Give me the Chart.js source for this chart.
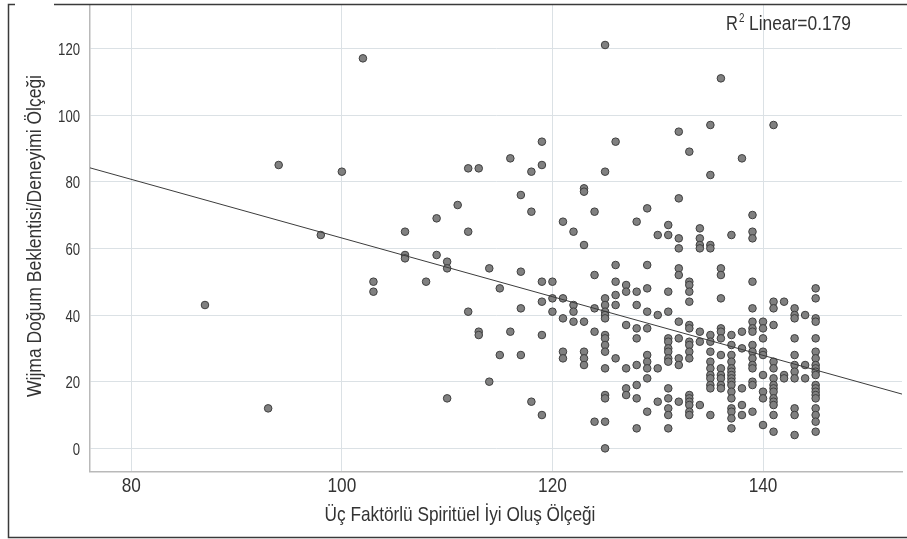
<!DOCTYPE html>
<html>
<head>
<meta charset="utf-8">
<script src="https://cdn.jsdelivr.net/npm/chart.js@4.4.1/dist/chart.umd.min.js"></script>
<style>
html,body{margin:0;padding:0;background:#fff;}
#wrap{width:907px;height:539px;position:relative;}
</style>
</head>
<body>
<div id="wrap"><canvas id="c" width="907" height="539"></canvas></div>
<script>
// x scores (Üç Faktörlü Spiritüel İyi Oluş Ölçeği), one entry per column of points
const colX = [87, 93, 94, 98, 100, 102, 103, 106, 108, 109, 110, 111, 112, 113, 114, 115, 116, 117, 118, 119,
  120, 121, 122, 123, 124, 125, 126, 127, 128, 129, 130, 131, 132, 133, 134, 135, 136, 137, 138, 139,
  140, 141, 142, 143, 144, 145];
// y scores (Wijma Doğum Beklentisi/Deneyimi Ölçeği) for each column above
const colY = [
  [43], [12], [85], [64], [83], [117], [50, 47], [65, 58, 57], [50], [69, 58], [56, 54, 15], [73],
  [84, 65, 41], [84, 35, 34], [54, 20], [48, 28], [87, 35], [76, 53, 42, 28], [83, 71, 14],
  [92, 85, 50, 44, 34, 10],
  [50, 45, 41],
  [68, 45, 39, 29, 27],
  [65, 43, 41, 38],
  [78, 77, 61, 38, 29, 27, 25],
  [71, 52, 42, 35, 8],
  [121, 83, 45, 43, 41, 40, 39, 34, 33, 31, 29, 24, 16, 15, 8, 0],
  [92, 55, 50, 46, 43, 27],
  [49, 47, 37, 24, 18, 16],
  [68, 47, 43, 36, 33, 25, 19, 15, 6],
  [72, 55, 48, 41, 36, 28, 26, 24, 21, 11],
  [64, 40, 24, 14],
  [67, 64, 47, 41, 33, 32, 30, 29, 27, 26, 18, 15, 12, 10, 6],
  [95, 75, 63, 60, 54, 52, 38, 33, 27, 25, 14],
  [89, 50, 49, 47, 44, 37, 36, 32, 31, 29, 27, 16, 15, 14, 13, 11, 10],
  [66, 63, 61, 60, 35, 32, 13],
  [97, 82, 61, 60, 34, 32, 29, 26, 24, 22, 21, 19, 18, 10],
  [111, 54, 52, 45, 36, 35, 33, 28, 24, 22, 21, 19, 18],
  [64, 34, 31, 28, 26, 24, 23, 22, 21, 20, 19, 17, 15, 12, 11, 9, 6],
  [87, 35, 30, 18, 13, 10],
  [70, 65, 63, 50, 42, 38, 36, 35, 31, 29, 27, 25, 24, 20, 19, 11],
  [38, 36, 33, 29, 28, 22, 17, 15, 7],
  [97, 44, 42, 37, 26, 24, 21, 19, 18, 17, 15, 14, 13, 10, 5],
  [44, 22, 21],
  [42, 40, 39, 33, 28, 25, 23, 21, 12, 10, 4],
  [40, 25, 21],
  [48, 45, 39, 38, 33, 29, 27, 25, 24, 23, 22, 19, 18, 17, 16, 15, 12, 10, 8, 5]
];
const xTicks = [80, 100, 120, 140];
const yTicks = [0, 20, 40, 60, 80, 100, 120];
const xRange = [76.08, 153.2];
const yRange = [-7, 133];
// fit line
const regIntercept = 151.1;
const regSlope = -0.88;
const r2Text = "0.179";
const xTitle = "Üç Faktörlü Spiritüel İyi Oluş Ölçeği";
const yTitle = "Wijma Doğum Beklentisi/Deneyimi Ölçeği";

const FONT = "'Liberation Sans', Arial, sans-serif";
const NARROW = 0.82;

const points = [];
colX.forEach((x, i) => colY[i].forEach(y => points.push({x, y})));
const fitLine = xRange.map(x => ({x, y: regIntercept + regSlope * x}));

// draw text with horizontal compression; either fixed factor or fitted to a target width
function drawText(ctx, text, x, y, size, opts) {
  ctx.save();
  ctx.font = size + "px " + FONT;
  const w = ctx.measureText(text).width;
  let sx = NARROW;
  if (opts.width) sx = opts.width / w;
  ctx.translate(x, y);
  if (opts.rotate) ctx.rotate(opts.rotate);
  ctx.scale(sx, 1);
  ctx.textAlign = opts.align || 'center';
  ctx.textBaseline = opts.baseline || 'alphabetic';
  ctx.fillStyle = opts.color || '#333';
  ctx.fillText(text, 0, 0);
  ctx.restore();
}

const decor = {
  id: 'decor',
  afterDraw(chart) {
    const ctx = chart.ctx;
    const xs = chart.scales.x, ys = chart.scales.y;
    ctx.save();
    // outer frame
    ctx.strokeStyle = '#3a3a3a';
    ctx.lineWidth = 1.5;
    ctx.beginPath();
    ctx.moveTo(54, 4.5); ctx.lineTo(907, 4.5);
    ctx.moveTo(15, 4.5); ctx.lineTo(8.5, 4.5); ctx.lineTo(8.5, 537.5); ctx.lineTo(907, 537.5);
    ctx.stroke();
    ctx.restore();
    // tick labels
    xTicks.forEach(v => drawText(ctx, String(v), xs.getPixelForValue(v), 491.7, 21, {}));
    yTicks.forEach(v => drawText(ctx, String(v), 80, ys.getPixelForValue(v) + 6.7, 16, {align: 'right'}));
    // axis titles
    drawText(ctx, xTitle, 460, 521, 21, {});
    drawText(ctx, yTitle, 40.5, 236, 21, {width: 322, rotate: -Math.PI / 2});
    // R² label
    drawText(ctx, "R", 726, 30, 20, {align: 'left'});
    drawText(ctx, "2", 739, 21.5, 12, {align: 'left'});
    drawText(ctx, "Linear=" + r2Text, 749, 30, 20, {align: 'left', width: 102});
  }
};

new Chart(document.getElementById('c'), {
  type: 'scatter',
  data: {
    datasets: [
      {
        type: 'line',
        data: fitLine,
        borderColor: '#3c3c3c',
        borderWidth: 1,
        pointRadius: 0,
        fill: false
      },
      {
        data: points,
        pointRadius: 3.8,
        pointBackgroundColor: '#808080',
        pointBorderColor: '#3f3f3f',
        pointBorderWidth: 1
      }
    ]
  },
  options: {
    responsive: false,
    animation: false,
    events: [],
    layout: {padding: {top: 5, right: 0, left: 0, bottom: 0}},
    plugins: {legend: {display: false}, tooltip: {enabled: false}},
    scales: {
      x: {
        type: 'linear',
        min: xRange[0], max: xRange[1],
        afterBuildTicks: s => { s.ticks = xTicks.map(v => ({value: v})); },
        afterFit: s => { s.height = 67.3; },
        grid: {color: '#dbe1e5', lineWidth: 1, drawTicks: false},
        border: {color: '#b9b9b9', width: 1.5},
        ticks: {display: false}
      },
      y: {
        type: 'linear',
        min: yRange[0], max: yRange[1],
        afterBuildTicks: s => { s.ticks = yTicks.map(v => ({value: v})); },
        afterFit: s => { s.width = 90; },
        grid: {color: '#dbe1e5', lineWidth: 1, drawTicks: false},
        border: {color: '#b9b9b9', width: 1.5},
        ticks: {display: false}
      }
    }
  },
  plugins: [decor]
});
</script>
</body>
</html>
